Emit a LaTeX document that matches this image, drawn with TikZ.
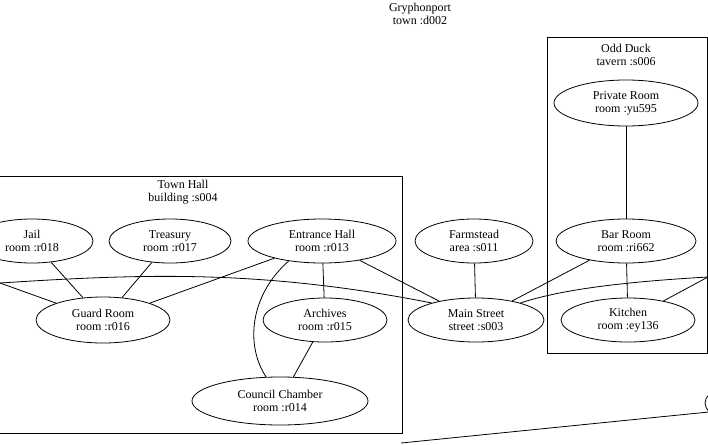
\documentclass[tikz,border=0pt]{standalone}
\usepackage{fontspec}
\setmainfont{Liberation Serif}
\usetikzlibrary{shapes.geometric}
\begin{document}
\begin{tikzpicture}[x=1pt,y=-1pt,
  room/.style={ellipse,draw,line width=0.8pt,inner sep=0pt,align=center,font=\fontsize{12}{13}\selectfont},
  lbl/.style={align=center,inner sep=0pt,font=\fontsize{12}{13}\selectfont},
  cluster/.style={draw,line width=0.8pt},
  edge/.style={draw,line width=0.8pt}]
\useasboundingbox (0,0) rectangle (708,444);
\clip (0,0) rectangle (708,444);
% clusters
\draw[cluster] (-36,176) rectangle (402,433);
\draw[cluster] (547,37) rectangle (707,353);
% titles
\node[lbl] (town) at (420,14) {Gryphonport\\town :d002};
\node[lbl] (hall) at (183,192) {Town Hall\\building :s004};
\node[lbl] (duck) at (626,55) {Odd Duck\\tavern :s006};
% nodes
\node[room,minimum width=122pt,minimum height=44pt] (jail) at (32,241) {Jail\\room :r018};
\node[room,minimum width=122pt,minimum height=44pt] (tr) at (170,241) {Treasury\\room :r017};
\node[room,minimum width=148pt,minimum height=44pt] (eh) at (322,241) {Entrance Hall\\room :r013};
\node[room,minimum width=118pt,minimum height=44pt] (fs) at (474,241) {Farmstead\\area :s011};
\node[room,minimum width=140pt,minimum height=44pt] (br) at (626,241) {Bar Room\\room :ri662};
\node[room,minimum width=144pt,minimum height=46pt] (pr) at (626,103) {Private Room\\room :yu595};
\node[room,minimum width=134pt,minimum height=44pt] (kit) at (628,320) {Kitchen\\room :ey136};
\node[room,minimum width=134pt,minimum height=46pt] (gr) at (103,320) {Guard Room\\room :r016};
\node[room,minimum width=124pt,minimum height=44pt] (ar) at (325,320) {Archives\\room :r015};
\node[room,minimum width=136pt,minimum height=44pt] (ms) at (476,320) {Main Street\\street :s003};
\node[room,minimum width=176pt,minimum height=48pt] (cc) at (280,401) {Council Chamber\\room :r014};
\node[room,minimum width=110pt,minimum height=44pt] (offB) at (760,403) {};
\coordinate (offL) at (0,283);
\coordinate (offR) at (708,277);
\coordinate (offD) at (401,443);
% edges
\draw[edge] (pr) -- (br);
\draw[edge] (br) -- (kit);
\draw[edge] (br) -- (ms);
\draw[edge] (ms.21) .. controls (560,290) and (620,282) .. (offR);
\draw[edge] (kit) -- (offR);
\draw[edge] (fs) -- (ms);
\draw[edge] (eh) -- (ms);
\draw[edge] (offL) .. controls (140,274) and (260,269) .. (ms.159);
\draw[edge] (offL) -- (gr);
\draw[edge] (jail) -- (gr);
\draw[edge] (tr) -- (gr);
\draw[edge] (eh) -- (gr);
\draw[edge] (eh) -- (ar);
\draw[edge] (eh.211) .. controls (250,295) and (245,345) .. (cc.120);
\draw[edge] (ar) -- (cc);
\draw[edge] (offD) -- (offB.190);
\end{tikzpicture}
\end{document}
